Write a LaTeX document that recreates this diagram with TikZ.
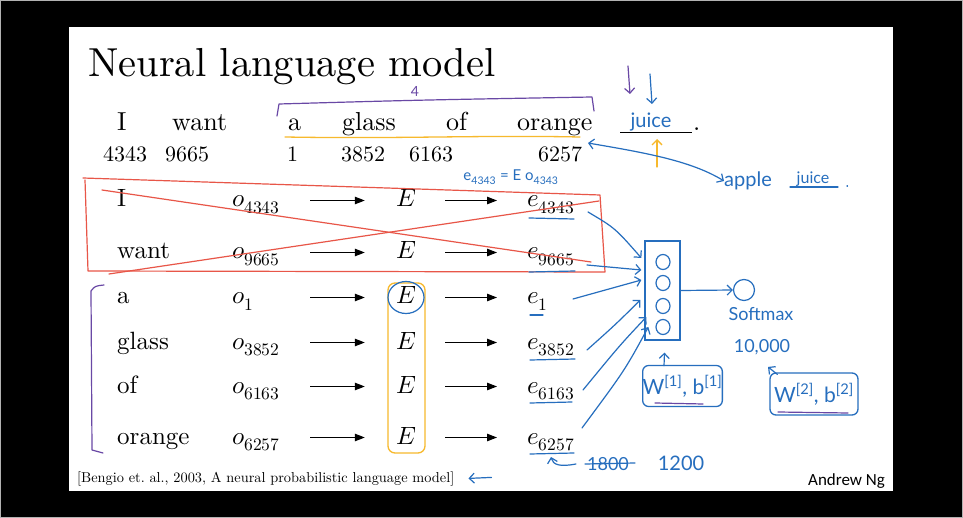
\documentclass[tikz,border=0pt]{standalone}
\usepackage{fontspec}
\usepackage{unicode-math}
\setmainfont{lmroman10}[Extension=.otf, UprightFont=*-regular, ItalicFont=*-italic, BoldFont=*-bold]
\setmathfont{Latin Modern Math}
\newfontfamily\hand{Lato}
\newfontfamily\calib{Carlito}
\usetikzlibrary{arrows.meta,calc}
\definecolor{hblue}{RGB}{38,110,190}
\definecolor{hred}{RGB}{232,86,72}
\definecolor{hpurple}{RGB}{105,72,165}
\definecolor{horange}{RGB}{247,185,45}
\begin{document}
\begin{tikzpicture}[x=1pt,y=-1pt,
  every node/.style={inner sep=0pt},
  lbl/.style={anchor=base west},
  topw/.style={anchor=base west, font=\fontsize{26}{30}\selectfont},
  topn/.style={anchor=base west, font=\fontsize{22}{26}\selectfont},
  cell/.style={anchor=base west, font=\fontsize{25}{30}\selectfont, text height=18pt, text depth=5pt},
  ocell/.style={cell, text width=70pt},
  ecell/.style={cell, anchor=base, minimum width=70pt},
  blk/.style={-{Triangle[length=10pt,width=7.5pt]}, line width=1.1pt},
  hand/.style={hblue, line width=1.2pt, line cap=round, line join=round},
  harr/.style={hand, -{Straight Barb[length=5pt,width=10pt]}},
  htxt/.style={hblue, font=\hand\fontsize{18}{20}\selectfont},
  redpen/.style={hred, line width=1.2pt, line cap=round, line join=round},
  purppen/.style={hpurple, line width=1.2pt, line cap=round, line join=round},
  orpen/.style={horange, line width=1.3pt, line cap=round, line join=round},
]
\fill[black] (0,0) rectangle (963,518);
\draw[gray!60, line width=1pt] (0.5,0.5) rectangle (962.5,517.5);
\fill[white] (69,27) rectangle (893,491);
\useasboundingbox (0,0) rectangle (963,518);

% title
\node[lbl, font=\fontsize{40.5}{44}\selectfont] (title) at (88,77) {Neural language model};

% top sentence
\node[topw] (tw1) at (117,130.5) {I};
\node[topw] (tw2) at (172,130.5) {want};
\node[topw] (tw3) at (288,130.5) {a};
\node[topw] (tw4) at (342,130.5) {glass};
\node[topw] (tw5) at (446,130.5) {of};
\node[topw] (tw6) at (517,130.5) {orange};
\node[topn] (tn1) at (103,161.5) {4343};
\node[topn] (tn2) at (165,161.5) {9665};
\node[topn] (tn3) at (287,161.5) {1};
\node[topn] (tn4) at (341,161.5) {3852};
\node[topn] (tn5) at (409,161.5) {6163};
\node[topn] (tn6) at (538,161.5) {6257};
\coordinate (bl1) at (620,133);
\coordinate (bl2) at (692,133);
\draw[line width=1pt] (bl1) -- (bl2);
\node[topw] (dot) at (693,131) {.};

% table
\foreach \w/\s/\y/\n in {I/4343/207/1, want/9665/259/2, a/1/304/3, glass/3852/349/4, of/6163/393/5, orange/6257/444/6}{
  \node[cell] (w\n) at (117,\y) {\w};
  \node[ocell] (o\n) at (232,\y) {$o_{\s}$};
  \node[ecell] (E\n) at (406,\y) {$E$};
  \node[cell] (e\n) at (527,\y) {$e_{\s}$};
  \draw[blk, shorten <=8pt, shorten >=6pt] (o\n.east) -- (E\n.west);
  \draw[blk, shorten <=4pt, shorten >=30pt] (E\n.east) -- (e\n.west);
}

% citation and author
\node[lbl, font=\fontsize{14.35}{16}\selectfont] (cite) at (77,482) {[Bengio et.~al., 2003, A neural probabilistic language model]};
\node[lbl, font=\calib\fontsize{17}{20}\selectfont] (ng) at (808,485) {Andrew Ng};

% ---------- handwritten annotations ----------
% purple bracket + 4
\draw[purppen] (277,116) -- (279,104) .. controls (420,100) .. (592,97) -- (594,111);
\node[hpurple, font=\hand\fontsize{14}{16}\selectfont] (four) at (415,91) {4};
% orange underline
\draw[orpen] (285,137) .. controls (400,139) and (480,135) .. (580,137);
% juice on blank
\node[htxt, font=\hand\fontsize{20}{22}\selectfont] (juice) at (651,122) {juice};
\draw[purppen, -{Straight Barb[length=5pt,width=10pt]}] (628,66) -- (630,94);
\draw[harr] (650,74) -- (652,104);
\draw[orpen, -{Straight Barb[length=5pt,width=10pt]}] (657,167) -- (657,139);
% apple juice
\node[htxt, font=\hand\fontsize{20}{22}\selectfont] (apple) at (748,181) {apple};
\node[htxt, font=\hand\fontsize{16}{18}\selectfont] (juice2) at (813,179) {juice};
\draw[hand] (790,187) -- (838,187);
\draw[hand] (847,186) -- (847.5,186);
\coordinate (dstart) at (588,143);
\draw[hand, {Straight Barb[length=5pt,width=10pt]}-{Straight Barb[length=5pt,width=10pt]}] (dstart) .. controls (640,152) and (690,160) .. (apple.west);
% equation
\node[htxt, font=\hand\fontsize{15}{17}\selectfont] (eq) at (511,177) {e\textsubscript{4343} = E o\textsubscript{4343}};

% red box and cross
\draw[redpen] (83,178) -- (600,195) -- (605,272) -- (88,271) -- (85,180);
\draw[redpen] (102,190) -- (591,262);
\draw[redpen] (109,274) -- (599,201);

% purple bracket left
\draw[purppen] (104,285) .. controls (95,286) .. (91,291) -- (92,450) -- (103,453);
% orange E column and blue circle
\draw[orpen, rounded corners=7pt] (388,283) rectangle (425,453);
\draw[hand] (E3) ellipse [x radius=18pt, y radius=16pt];

% underlines under e's
\draw[hand] ($(e1.base west)+(2,11)$) -- ($(e1.base west)+(47,12)$);
\draw[hand] ($(e2.base west)+(2,13)$) -- ($(e2.base west)+(48,12)$);
\draw[hand] ($(e3.base west)+(3,11)$) -- ($(e3.base west)+(16,11)$);
\draw[hand] ($(e4.base west)+(3,11)$) -- ($(e4.base west)+(48,10)$);
\draw[hand] ($(e5.base west)+(3,10)$) -- ($(e5.base west)+(45,9)$);
\draw[hand] ($(e6.base west)+(3,10)$) -- ($(e6.base west)+(47,9)$);

% hidden layer
\node[draw=hblue, line width=1.3pt, minimum width=35pt, minimum height=99pt] (h) at (662.5,290.5) {};
\foreach \cy in {262,283,306,327}{
  \draw[hand] (663,\cy) ellipse [x radius=7pt, y radius=7.5pt];
}
\draw[harr] ($(e1.base west)+(61,5)$) .. controls (615,228) .. ($(h.west)+(-3,-32.5)$);
\draw[harr] ($(e2.base west)+(60,6)$) -- ($(h.west)+(-3,-20.5)$);
\draw[harr] ($(e3.base west)+(46,-5)$) -- ($(h.west)+(-3,-10.5)$);
\draw[harr] ($(e4.base west)+(60,1)$) .. controls (615,325) .. ($(h.west)+(-4,9.5)$);
\draw[harr] ($(e5.base west)+(56,-3)$) .. controls (620,345) .. ($(h.west)+(2,26.5)$);
\draw[harr] ($(e6.base west)+(55,-16)$) .. controls (625,370) .. ($(h.west)+(4,36.5)$);

% softmax
\node[draw=hblue, circle, line width=1.2pt, minimum size=21pt] (sm) at (744,290) {};
\draw[harr] (h.east) -- (sm.west);
\node[htxt] (smt) at (761,314) {Softmax};
\node[htxt] (tenk) at (762,347) {10,000};

% parameter boxes
\node[draw=horange, line width=1.3pt, rounded corners=6pt, minimum width=79pt, minimum height=41pt, htxt, font=\hand\fontsize{21}{23}\selectfont] (W1) at (682.5,386) {W\textsuperscript{[1]}, b\textsuperscript{[1]}};
\draw[purppen] (655,403) -- (703,404);
\draw[harr] ($(W1.north west)+(22,1)$) -- ($(h.south)+(2,12)$);
\node[draw=horange, line width=1.3pt, rounded corners=6pt, minimum width=88pt, minimum height=42pt, htxt, font=\hand\fontsize{21}{23}\selectfont] (W2) at (814,394) {W\textsuperscript{[2]}, b\textsuperscript{[2]}};
\draw[purppen] (778,412) -- (848,413);
\draw[harr] ($(W2.north west)+(8,2)$) -- ($(tenk.south)+(6,12)$);

% size notes
\node[htxt] (n1800) at (608,464) {1800};
\draw[hand] ($(n1800.west)+(-2,0)$) -- ($(n1800.east)+(6,-1)$);
\node[htxt, font=\hand\fontsize{20}{22}\selectfont] (n1200) at (681,463) {1200};
\draw[harr] ($(n1800.west)+(-11,0)$) .. controls (560,467) and (553,465) .. ($(e6.base west)+(24,13)$);
\draw[harr] ($(cite.east)+(37,-1)$) -- ($(cite.east)+(14,0)$);
\end{tikzpicture}
\end{document}
